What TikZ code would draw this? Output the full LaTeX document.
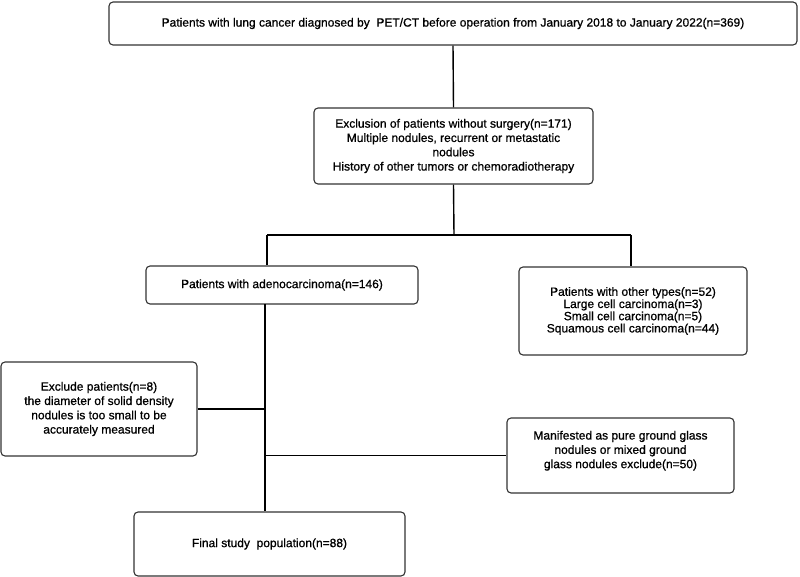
\documentclass[tikz,border=0pt]{standalone}
\usepackage{fontspec}
\setmainfont{Liberation Sans}[BoldFont=Liberation Sans, BoldFeatures={FakeBold=0.8}]
\begin{document}
\begin{tikzpicture}[x=1pt,y=-1pt,
  box/.style={draw=black!80, line width=1.1pt, rounded corners=4pt, align=center,
    inner sep=0pt, font=\fontsize{12}{14.3}\selectfont\bfseries},
  conn/.style={draw=black, line width=1.4pt}]
\useasboundingbox[fill=white] (0,0) rectangle (800,577);
\node[box, minimum width=688pt, minimum height=43pt] (top) at (453,23.5)
  {Patients with lung cancer diagnosed by \ PET/CT before operation from January 2018 to January 2022(n=369)};
\node[box, minimum width=279pt, minimum height=76pt] (excl1) at (453.5,146)
  {Exclusion of patients without surgery(n=171)\\Multiple nodules, recurrent or metastatic\\nodules\\History of other tumors or chemoradiotherapy};
\node[box, minimum width=272pt, minimum height=38pt] (adeno) at (282,285)
  {Patients with adenocarcinoma(n=146)};
\node[box, minimum width=228pt, minimum height=88pt, font=\fontsize{12}{12.2}\selectfont\bfseries] (other) at (633,311)
  {Patients with other types(n=52)\\Large cell carcinoma(n=3)\\Small cell carcinoma(n=5)\\Squamous cell carcinoma(n=44)};
\node[box, minimum width=196pt, minimum height=94pt] (excl2) at (99,409)
  {Exclude patients(n=8)\\the diameter of solid density\\nodules is too small to be\\accurately measured};
\node[box, minimum width=227pt, minimum height=75pt, text depth=12pt] (manif) at (620.5,455.5)
  {Manifested as pure ground glass\\nodules or mixed ground\\glass nodules exclude(n=50)};
\node[box, minimum width=271pt, minimum height=64pt] (final) at (269.5,544)
  {Final study \ population(n=88)};
\coordinate (j) at (454,235);
\coordinate (jl) at (267,235);
\coordinate (jr) at (631,235);
\coordinate (sp) at (265,304);
\draw[conn] (top.south) -- (excl1.north);
\draw[conn] (excl1.south) -- (j);
\draw[conn] (jl) -- (jr);
\draw[conn] (jl) -- (jl |- adeno.north);
\draw[conn] (jr) -- (jr |- other.north);
\draw[conn] (sp) -- (sp |- final.north);
\draw[conn] (excl2.east) -- (excl2.east -| sp);
\draw[conn] (sp |- manif.west) -- (manif.west);
\end{tikzpicture}
\end{document}
